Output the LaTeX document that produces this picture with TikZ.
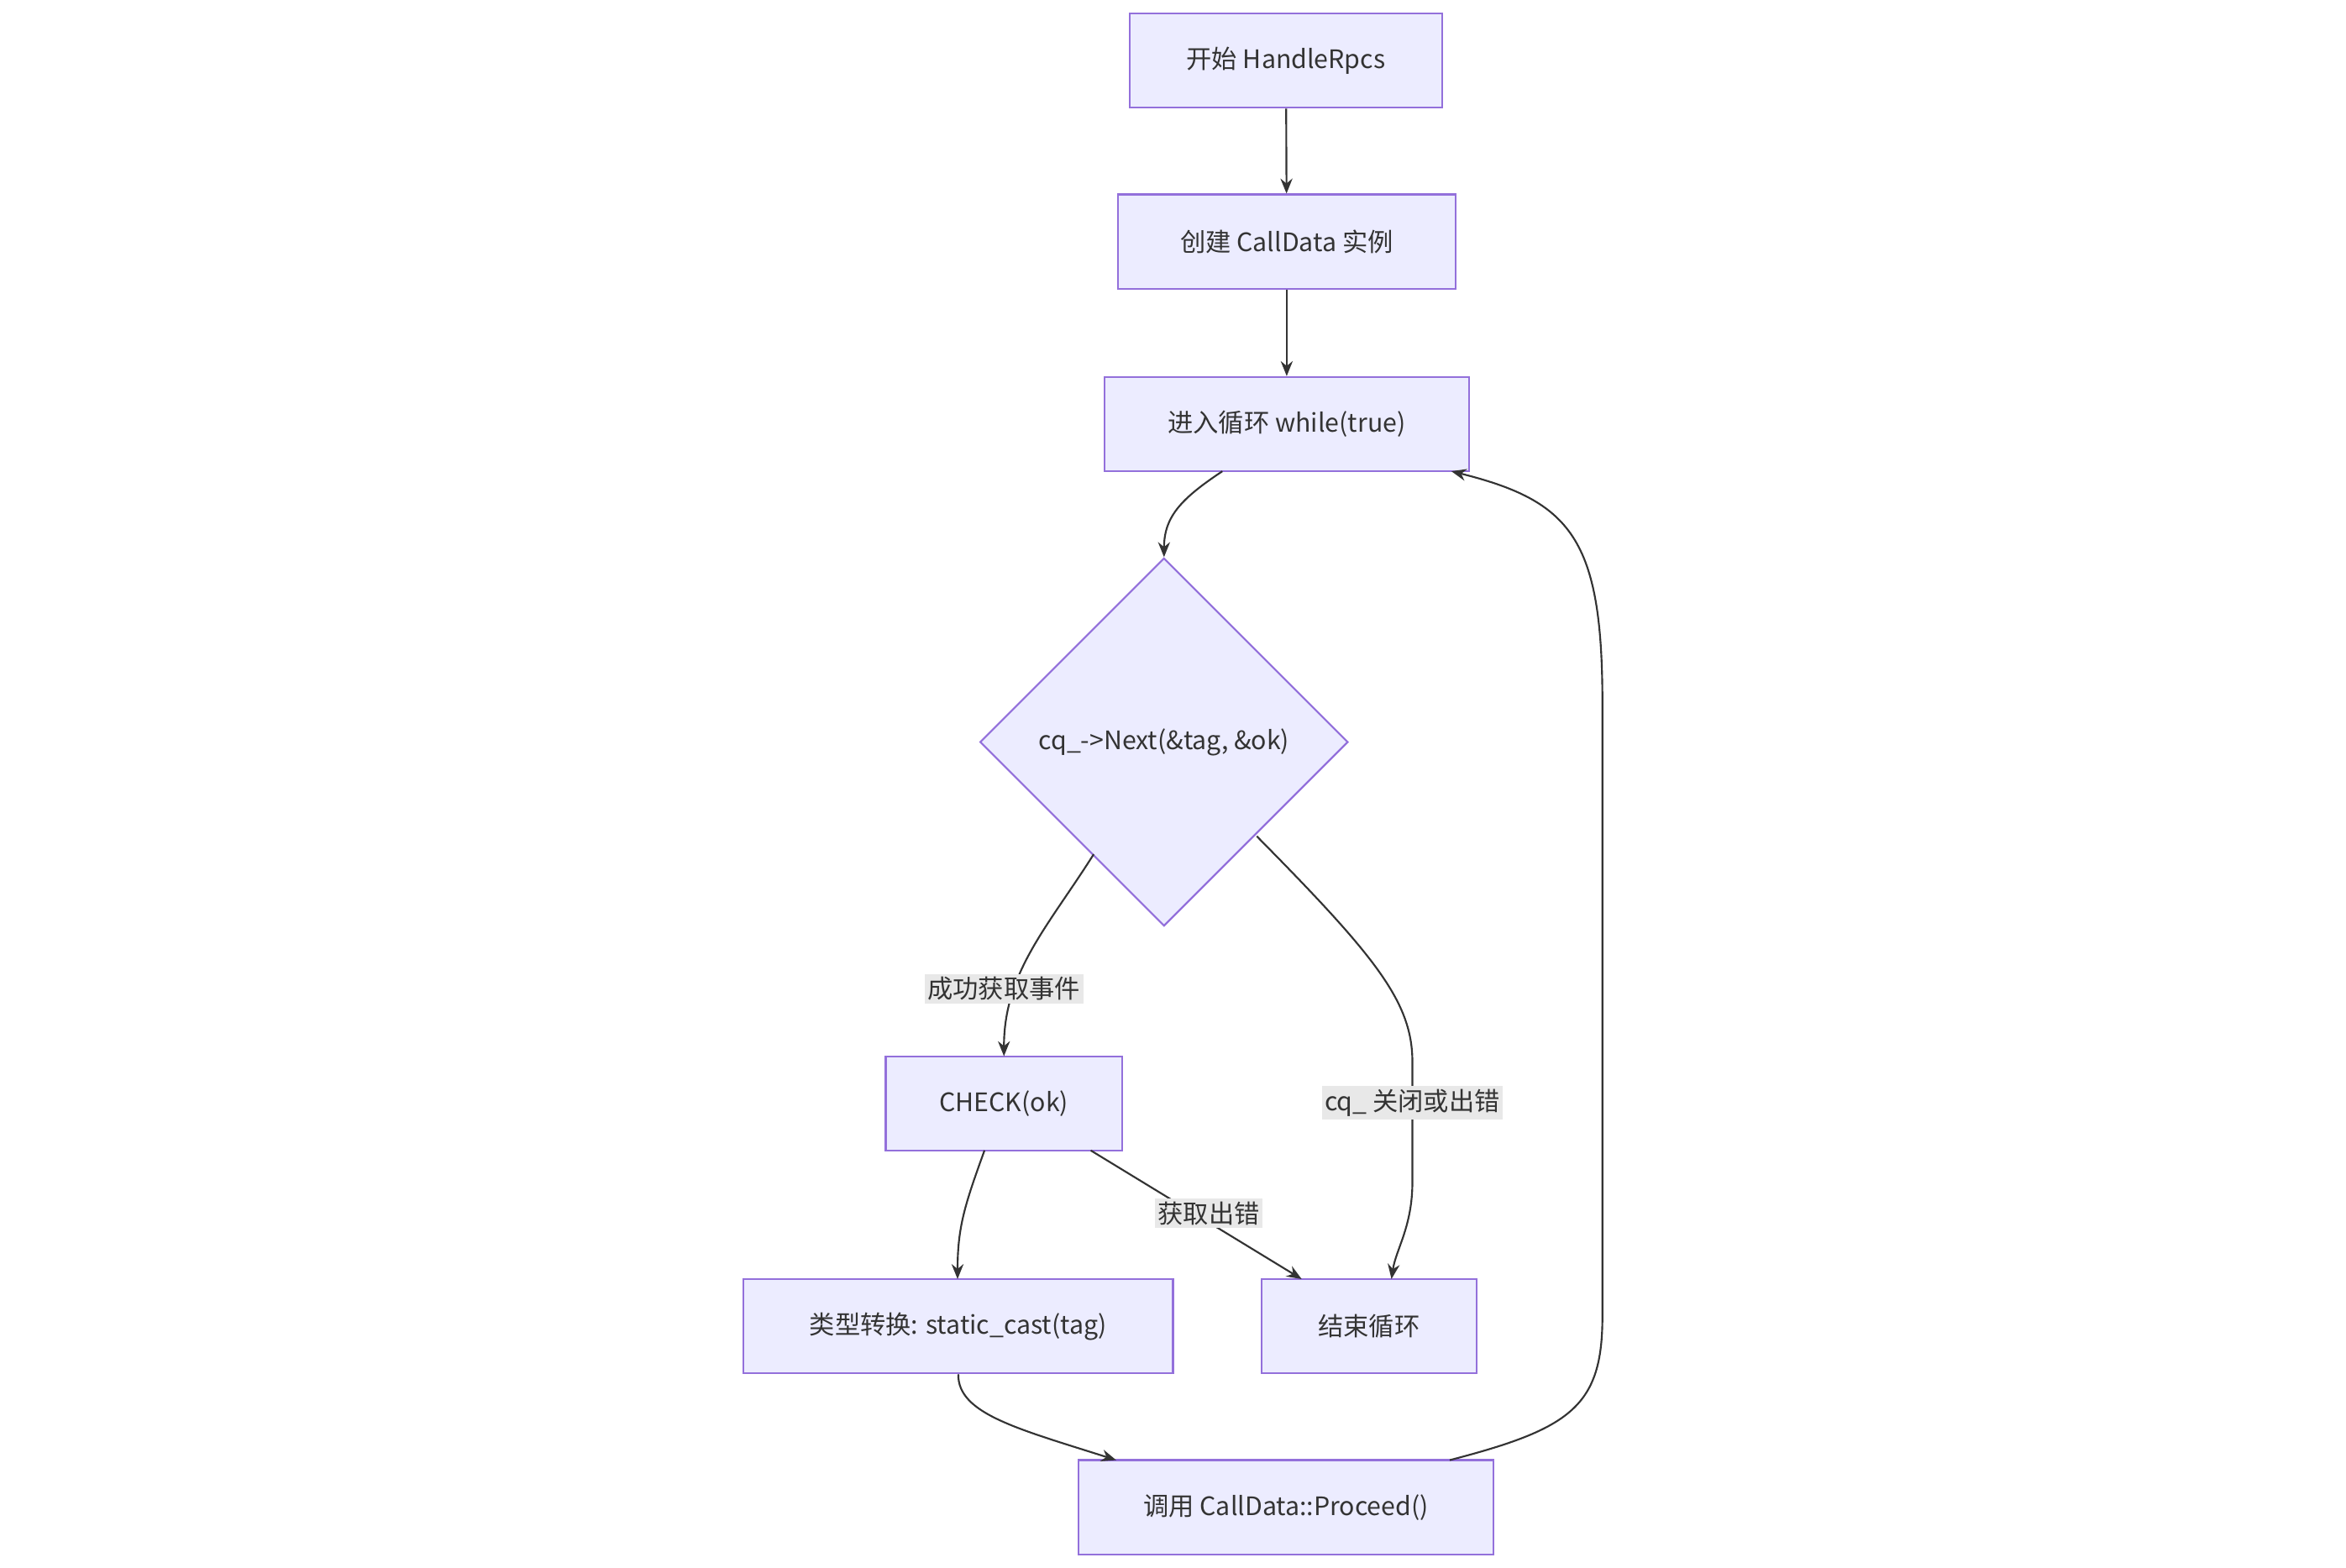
\documentclass[tikz,border=0pt]{standalone}
\usepackage{fontspec}
\setmainfont{Noto Sans CJK SC}
\usetikzlibrary{shapes.geometric,arrows.meta}
\definecolor{nfill}{HTML}{ECECFF}
\definecolor{nline}{HTML}{9370DB}
\definecolor{eline}{HTML}{333333}
\definecolor{lbg}{HTML}{E8E8E8}
\begin{document}
\begin{tikzpicture}[x=1pt,y=-1pt,
  box/.style={draw=nline,fill=nfill,line width=1.2pt,minimum height=63pt,inner sep=0pt,font=\fontsize{17}{20}\selectfont,text=eline},
  dia/.style={draw=nline,fill=nfill,line width=1.2pt,diamond,minimum width=246pt,minimum height=246pt,inner sep=0pt,font=\fontsize{17}{20}\selectfont,text=eline},
  lab/.style={fill=lbg,inner sep=2pt,font=\fontsize{17}{20}\selectfont,text=eline},
  arr/.style={draw=eline,line width=1.2pt,-{Stealth[length=10pt,width=8pt]}}]
\useasboundingbox (0,0) rectangle (1568,1048);
\node[box,minimum width=209pt] (start) at (859.5,40.5) {开始 HandleRpcs};
\node[box,minimum width=226pt] (create) at (860,161.5) {创建 CallData 实例};
\node[box,minimum width=244pt] (loop) at (860,283.5) {进入循环 while(true)};
\node[dia] (next) at (778,496) {cq\_->Next(\&tag, \&ok)};
\node[box,minimum width=158pt] (check) at (671,737.5) {CHECK(ok)};
\node[box,minimum width=287pt] (cast) at (640.5,886.5) {类型转换: static\_cast(tag)};
\node[box,minimum width=144pt] (end) at (915,886.5) {结束循环};
\node[box,minimum width=277pt] (proc) at (859.5,1007.5) {调用 CallData::Proceed()};

\draw[arr] (start) -- (create);
\draw[arr] (create) -- (loop);
\draw[arr] (817,315) .. controls (790,333) and (778,345) .. (next.north);
\draw[arr] (731,571) .. controls (700,620) and (671,650) .. (671,706);
\node[lab] (l1) at (671,661) {成功获取事件};
\draw[arr] (840,559) .. controls (920,640) and (944,670) .. (944,710) -- (944,790) .. controls (944,820) and (933,835) .. (930,855);
\node[lab] (l2) at (944,737) {cq\_ 关闭或出错};
\draw[arr] (729,769) -- (870,855);
\node[lab] (l3) at (808,811) {获取出错};
\draw[arr] (658,769) .. controls (645,805) and (640,820) .. (640,855);
\draw[arr] (cast.south) .. controls (640,945) and (680,955) .. (746,976);
\draw[arr] (969,976) .. controls (1050,955) and (1071,940) .. (1071,880) -- (1071,470) .. controls (1071,360) and (1050,335) .. (970,315);
\end{tikzpicture}
\end{document}
